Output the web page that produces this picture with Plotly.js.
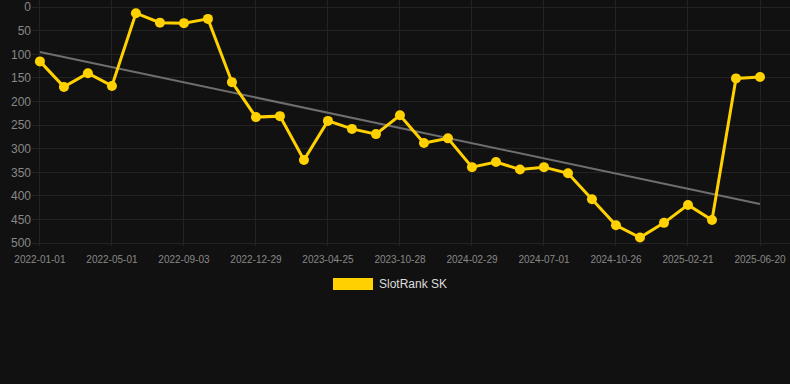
<!DOCTYPE html>
<html><head><meta charset="utf-8">
<script src="https://cdn.plot.ly/plotly-3.0.1.min.js"></script>
<style>html,body{margin:0;padding:0;background:#111111;}#chart{width:790px;height:384px;}</style>
</head><body><div id="chart"></div>
<script>
const dates = ["2022-01-01","2022-02-10","2022-03-22","2022-05-01","2022-06-12","2022-07-23","2022-09-03","2022-10-12","2022-11-20","2022-12-29","2023-02-06","2023-03-17","2023-04-25","2023-06-25","2023-08-26","2023-10-28","2023-12-10","2024-01-20","2024-02-29","2024-04-10","2024-05-21","2024-07-01","2024-08-08","2024-09-17","2024-10-26","2024-12-04","2025-01-12","2025-02-21","2025-04-01","2025-05-10","2025-06-20"];
const ranks = [115,169,140,167,13,33,34,25,159,233,231,324,241,258,269,229,288,278,339,328,344,339,352,407,462,488,457,419,451,151,148];
const tickLabels = ["2022-01-01","2022-05-01","2022-09-03","2022-12-29","2023-04-25","2023-10-28","2024-02-29","2024-07-01","2024-10-26","2025-02-21","2025-06-20"];
const trendX = ["2022-01-01","2025-06-20"];
const trendY = [95,417];
const seriesName = "SlotRank SK";

const PH = 246, PW = 758, PL = 32;
const traces = [
  {x: trendX, y: trendY, type:'scatter', mode:'lines', line:{color:'#6e6e6e', width:2}, hoverinfo:'skip', showlegend:false},
  {x: dates, y: ranks, type:'scatter', mode:'lines+markers', name: seriesName,
   line:{color:'#FFD100', width:3}, marker:{color:'#FFD100', size:10}, showlegend:false}
];
const layout = {
  width:790, height:384,
  paper_bgcolor:'#111111', plot_bgcolor:'#111111',
  margin:{l:PL, r:0, t:0, b:384-PH},
  font:{family:'"Liberation Sans", Arial, sans-serif', color:'#888'},
  xaxis:{type:'category', categoryorder:'array', categoryarray:dates, range:[-0.33,31.25],
    tickmode:'array', tickvals:tickLabels, ticktext:tickLabels,
    tickfont:{size:10, color:'#888'}, showgrid:true, gridcolor:'#232323', gridwidth:1,
    zeroline:false, showline:false, ticks:'', ticklen:0, ticklabelstandoff:6},
  yaxis:{range:[506,-15], tickvals:[0,50,100,150,200,250,300,350,400,450,500],
    tickfont:{size:12, color:'#888'}, showgrid:true, gridcolor:'#232323', gridwidth:1,
    zeroline:false, showline:false, ticks:'', ticklen:0},
  showlegend:false,
  shapes:[{type:'rect', xref:'paper', yref:'paper', x0:(333-PL)/PW, x1:(373-PL)/PW,
    y0:(PH-290)/PH, y1:(PH-278)/PH, fillcolor:'#FFD100', line:{width:0}}],
  annotations:[{xref:'paper', yref:'paper', x:(377-PL)/PW, y:(PH-284)/PH, xanchor:'left', yanchor:'middle',
    text:seriesName, showarrow:false, font:{size:12, color:'#dddddd'}}]
};
Plotly.newPlot('chart', traces, layout, {displayModeBar:false, staticPlot:true});
</script></body></html>
